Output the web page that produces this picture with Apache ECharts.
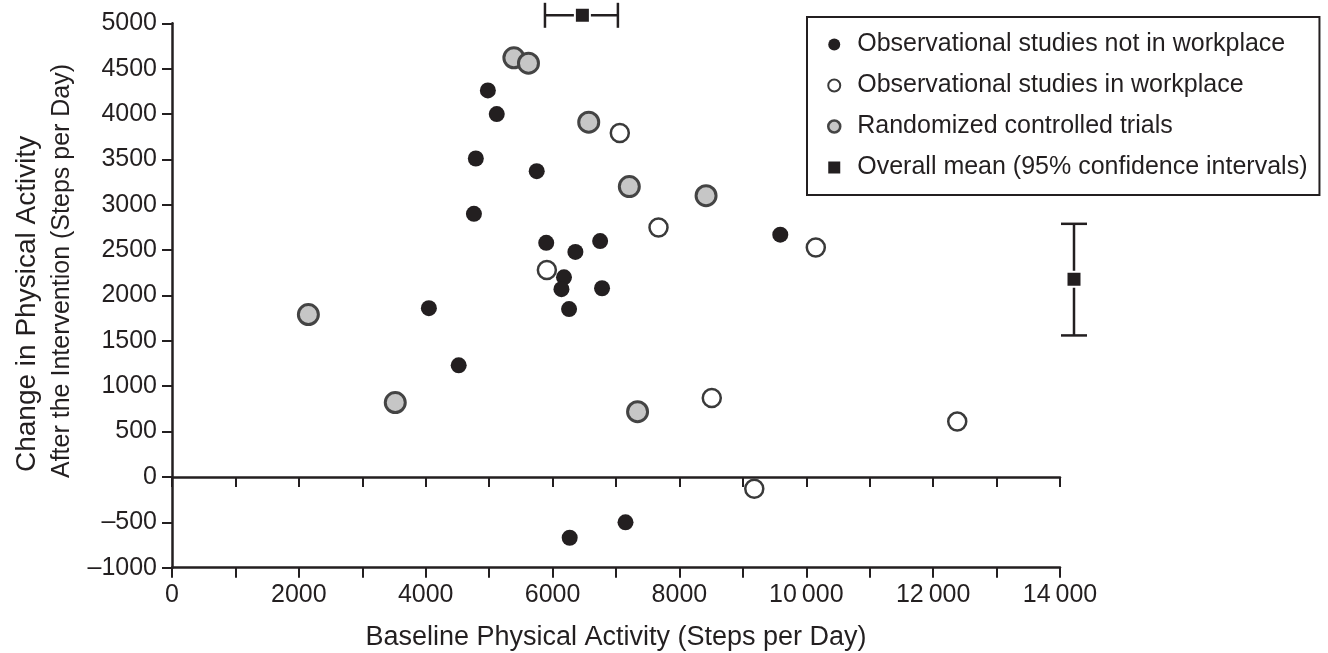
<!DOCTYPE html>
<html lang="en">
<head>
<meta charset="utf-8">
<title>Change in physical activity vs baseline</title>
<script src="https://cdn.jsdelivr.net/npm/echarts@6/dist/echarts.min.js"></script>
<style>
html, body { margin: 0; padding: 0; background: #fff; }
#main { width: 1328px; height: 653px; }
</style>
</head>
<body>
<div id="main"></div>
<script>
// [baseline steps per day, change in steps per day]
var notWorkplace = [
    [4980, 4260], [5120, 4000], [4790, 3510], [5750, 3370], [4760, 2900],
    [5900, 2580], [6360, 2480], [6750, 2600], [6180, 2200], [6140, 2070],
    [6780, 2080], [6260, 1850], [4050, 1860], [4520, 1230], [9590, 2670],
    [6270, -670], [7150, -500]
];
var inWorkplace = [
    [7060, 3790], [5910, 2280], [7670, 2750], [10150, 2530], [8510, 870],
    [12380, 610], [9180, -130]
];
var rcts = [
    [5390, 4620], [5620, 4560], [6570, 3910], [7210, 3200], [8420, 3100],
    [2150, 1790], [3520, 820], [7340, 720]
];
// overall mean, [low 95% CI, mean, high 95% CI]
var baselineMean = [5880, 6470, 7030];
var changeMean = [1560, 2180, 2790];

var names = [
    'Observational studies not in workplace',
    'Observational studies in workplace',
    'Randomized controlled trials',
    'Overall mean (95% confidence intervals)'
];
var xTitle = 'Baseline Physical Activity (Steps per Day)';
var yTitle = ['Change in Physical Activity', 'After the Intervention (Steps per Day)'];

var ink = '#231f20';
var font = '"Liberation Sans", Arial, Helvetica, sans-serif';

var myChart = echarts.init(document.getElementById('main'));

function fmtX(v) {
    if (v % 2000 !== 0) return '';
    if (v >= 10000) return Math.floor(v / 1000) + '\u2009' + String(v % 1000 + 1000).slice(1);
    return String(v);
}
function fmtY(v) {
    return v < 0 ? '\u2013' + (-v) : String(v);
}
function line(x1, y1, x2, y2) {
    return { type: 'line', shape: { x1: x1, y1: y1, x2: x2, y2: y2 }, style: { stroke: ink, lineWidth: 2.5 } };
}
function square(cx, cy) {
    return { type: 'rect', shape: { x: cx - 7.5, y: cy - 7.5, width: 15, height: 15 },
             style: { fill: ink, stroke: '#fff', lineWidth: 2 } };
}

// the two mean markers sit outside the plot: one above it, one right of it
function renderMean(params, api) {
    var cs = params.coordSys;
    var ty = cs.y - 8;
    var xl = api.coord([baselineMean[0], 0])[0];
    var xm = api.coord([baselineMean[1], 0])[0];
    var xh = api.coord([baselineMean[2], 0])[0];
    var rx = cs.x + cs.width + 14;
    var yl = api.coord([0, changeMean[0]])[1];
    var ym = api.coord([0, changeMean[1]])[1];
    var yh = api.coord([0, changeMean[2]])[1];
    return {
        type: 'group',
        children: [
            line(xl, ty, xh, ty), line(xl, ty - 12.5, xl, ty + 12.5), line(xh, ty - 12.5, xh, ty + 12.5),
            square(xm, ty),
            line(rx, yh, rx, yl), line(rx - 13, yh, rx + 13, yh), line(rx - 13, yl, rx + 13, yl),
            square(rx, ym)
        ]
    };
}

var axisLineStyle = { color: ink, width: 2.5 };
var tickStyle = { color: ink, width: 2 };

myChart.setOption({
    animation: false,
    backgroundColor: '#fff',
    textStyle: { fontFamily: font, color: ink },
    grid: { left: 172, right: 268, top: 23.3, bottom: 85.3, outerBoundsMode: 'none', containLabel: false },
    legend: {
        orient: 'vertical',
        left: 807,
        top: 17,
        padding: [15, 12, 15, 20],
        itemGap: 16,
        itemWidth: 12,
        itemHeight: 12,
        borderColor: ink,
        borderWidth: 2,
        backgroundColor: '#fff',
        selectedMode: false,
        textStyle: { fontSize: 25, color: ink, fontFamily: font, padding: [0, 0, 0, 12] },
        data: [
            { name: names[0], icon: 'circle', itemStyle: { color: ink, borderWidth: 0 } },
            { name: names[1], icon: 'circle', itemStyle: { color: '#fff', borderColor: '#3a3a3a', borderWidth: 2 } },
            { name: names[2], icon: 'circle', itemStyle: { color: '#c6c6c6', borderColor: '#444', borderWidth: 2.5 } },
            { name: names[3], icon: 'rect', itemStyle: { color: ink, borderWidth: 0 } }
        ]
    },
    xAxis: [{
        type: 'value', min: 0, max: 14000, interval: 1000, position: 'bottom',
        axisLine: { onZero: true, lineStyle: axisLineStyle },
        axisTick: { show: true, length: 10, lineStyle: tickStyle },
        axisLabel: { show: false },
        splitLine: { show: false }
    }, {
        type: 'value', min: 0, max: 14000, interval: 1000, position: 'bottom',
        axisLine: { onZero: false, lineStyle: axisLineStyle },
        axisTick: { show: true, length: 10, lineStyle: tickStyle },
        axisLabel: { margin: 15, fontSize: 25, color: ink, fontFamily: font, formatter: fmtX },
        splitLine: { show: false },
        name: xTitle,
        nameLocation: 'middle',
        nameGap: 56,
        nameTextStyle: { fontSize: 27, color: ink, fontFamily: font }
    }],
    yAxis: {
        type: 'value', min: -1000, max: 5000, interval: 500,
        axisLine: { show: true, onZero: false, lineStyle: axisLineStyle },
        axisTick: { show: true, length: 10, lineStyle: tickStyle },
        axisLabel: { margin: 15, fontSize: 25, color: ink, fontFamily: font, formatter: fmtY },
        splitLine: { show: false }
    },
    graphic: [{
        type: 'text', x: 27, y: 472, rotation: Math.PI / 2,
        style: { text: yTitle[0], fontSize: 28, fontFamily: font, fill: ink, align: 'left', verticalAlign: 'middle' }
    }, {
        type: 'text', x: 62, y: 478, rotation: Math.PI / 2,
        style: { text: yTitle[1], fontSize: 25, fontFamily: font, fill: ink, align: 'left', verticalAlign: 'middle' }
    }],
    series: [{
        name: names[0], type: 'scatter', data: notWorkplace, symbolSize: 16,
        itemStyle: { color: ink, opacity: 1 }
    }, {
        name: names[1], type: 'scatter', data: inWorkplace, symbolSize: 18,
        itemStyle: { color: '#fff', borderColor: '#3a3a3a', borderWidth: 2.5, opacity: 1 }
    }, {
        name: names[2], type: 'scatter', data: rcts, symbolSize: 20,
        itemStyle: { color: '#c6c6c6', borderColor: '#444', borderWidth: 3, opacity: 1 }
    }, {
        name: names[3], type: 'custom', renderItem: renderMean, data: [0], clip: false,
        itemStyle: { color: ink }
    }]
});
</script>
</body>
</html>
